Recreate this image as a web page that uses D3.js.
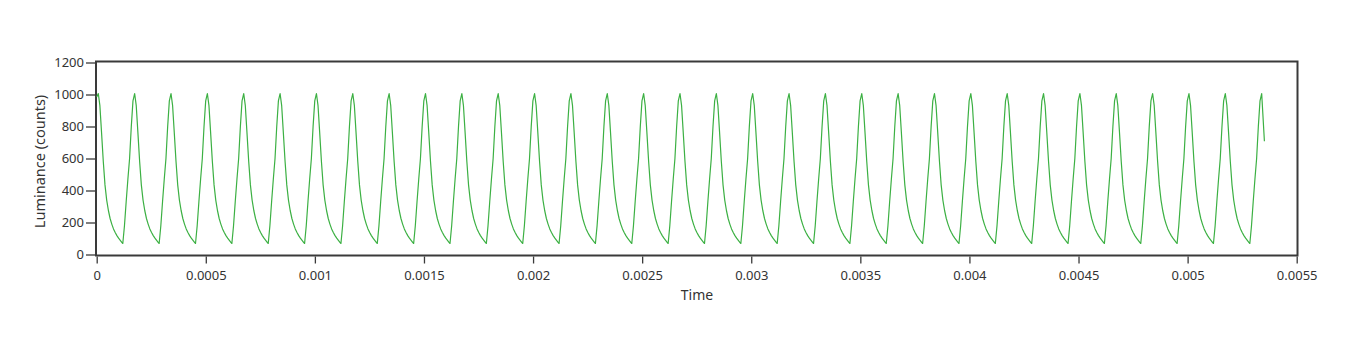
<!DOCTYPE html>
<html><head><meta charset="utf-8">
<script src="https://cdn.jsdelivr.net/npm/d3@7"></script>
<style>
html,body{margin:0;padding:0;background:#fff;}
text{font-family:"Segoe UI","Noto Sans","Open Sans",sans-serif;fill:#333;}
</style></head>
<body>
<svg id="chart" width="1350" height="352"></svg>
<script>
// ---- data ----
const xTicks = [0,0.0005,0.001,0.0015,0.002,0.0025,0.003,0.0035,0.004,0.0045,0.005,0.0055];
const xTickLabels = ["0","0.0005","0.001","0.0015","0.002","0.0025","0.003","0.0035","0.004","0.0045","0.005","0.0055"];
const yTicks = [0,200,400,600,800,1000,1200];
const yTickLabels = ["0","200","400","600","800","1000","1200"];
// times of the luminance peaks (s)
const peakTimes = [0.0000073,0.0001739,0.0003406,0.0005072,0.0006738,0.0008405,0.0010071,0.0011737,
  0.0013403,0.0015070,0.0016736,0.0018402,0.0020069,0.0021735,0.0023401,0.0025068,0.0026734,
  0.0028400,0.0030066,0.0031733,0.0033399,0.0035065,0.0036732,0.0038398,0.0040064,0.0041731,
  0.0043397,0.0045063,0.0046729,0.0048396,0.0050062,0.0051728,0.0053395];
// shape of one cycle, as fraction of the cycle after a peak, and luminance (counts)
const cyclePhase = [0,0.044,0.09,0.138,0.184,0.231,0.278,0.325,0.371,0.418,0.465,0.512,0.558,0.605,0.652,0.674,0.72,0.767,0.814,0.861,0.908,0.954];
const cycleValue = [1006,930,760,580,435,340,275,225,190,160,138,118,102,88,74,69,180,330,470,600,800,960];
const startPoint = [0, 985];
const peakValue = 1006;
const endPoint = [0.005352, 708];

// ---- build series ----
const series = [startPoint];
for (let k = 0; k < peakTimes.length - 1; k++) {
  const t0 = peakTimes[k], t1 = peakTimes[k+1];
  cyclePhase.forEach((p, i) => series.push([t0 + p*(t1 - t0), cycleValue[i]]));
}
series.push([peakTimes[peakTimes.length-1], peakValue]);
series.push(endPoint);

// ---- draw ----
const svg = d3.select("#chart");
const x = d3.scaleLinear().domain([0,0.0055]).range([96.7,1296.7]);
const y = d3.scaleLinear().domain([0,1200]).range([254.5,62.5]);

// plot frame
svg.append("rect").attr("x",96).attr("y",61.5).attr("width",1201.5).attr("height",194)
  .attr("fill","none").attr("stroke","#3a3a3a").attr("stroke-width",2);

// line
svg.append("path").datum(series)
  .attr("fill","none").attr("stroke","#3cb043").attr("stroke-width",1.2)
  .attr("stroke-linejoin","round")
  .attr("d", d3.line().x(d=>x(d[0])).y(d=>y(d[1])));

// axes
const xAxis = d3.axisBottom(x).tickValues(xTicks).tickFormat((d,i)=>xTickLabels[i])
  .tickSize(7).tickSizeOuter(0).tickPadding(7.5);
const gx = svg.append("g").attr("transform","translate(0,256.5)").call(xAxis);
gx.select(".domain").remove();
gx.selectAll("line").attr("stroke","#3a3a3a").attr("stroke-width",1.3);
gx.selectAll("text").style("font-size","13px").attr("fill","#333");

const yAxis = d3.axisLeft(y).tickValues(yTicks).tickFormat((d,i)=>yTickLabels[i])
  .tickSize(9).tickSizeOuter(0).tickPadding(2);
const gy = svg.append("g").attr("transform","translate(95,0)").call(yAxis);
gy.select(".domain").remove();
gy.selectAll("line").attr("stroke","#3a3a3a").attr("stroke-width",1.3);
gy.selectAll("text").style("font-size","13px").attr("fill","#333");

// titles
svg.append("text").attr("x",697).attr("y",300).attr("text-anchor","middle")
  .style("font-size","14px").text("Time");
svg.append("text").attr("transform","translate(45,161.5) rotate(-90)").attr("text-anchor","middle")
  .style("font-size","14.5px").text("Luminance (counts)");
</script>
</body></html>
